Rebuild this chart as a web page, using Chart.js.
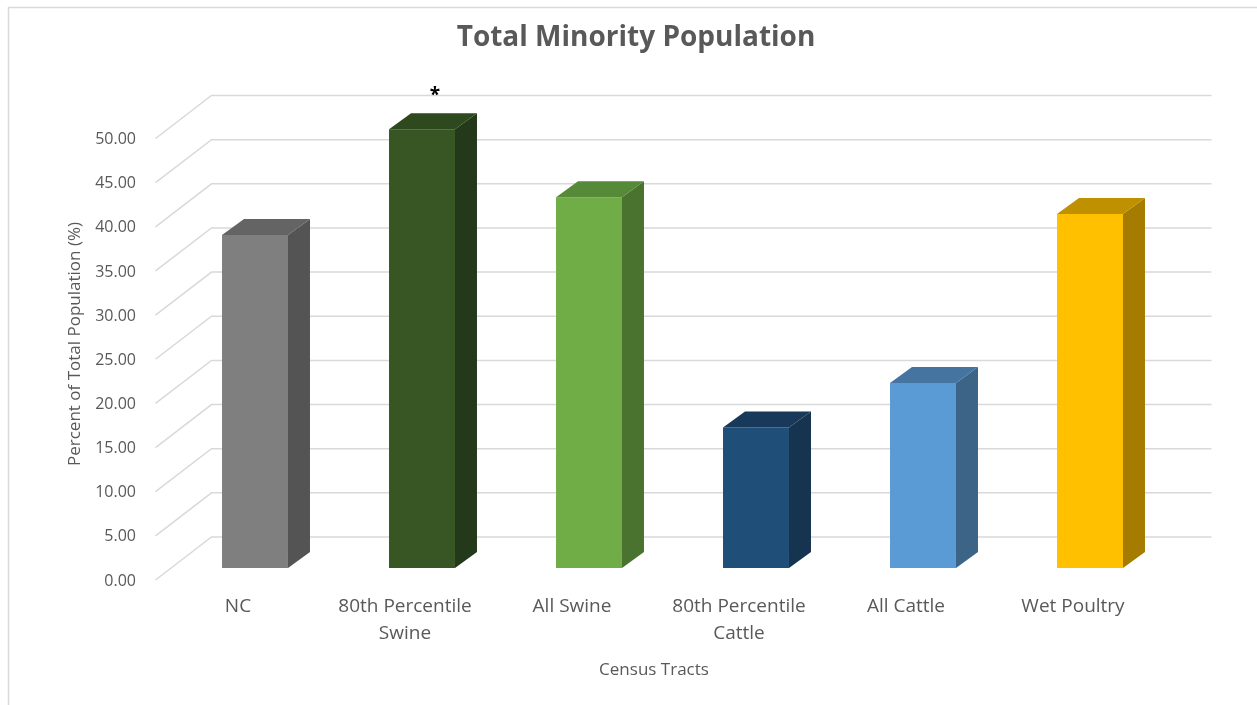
<!DOCTYPE html>
<html>
<head>
<meta charset="utf-8">
<script src="https://cdn.jsdelivr.net/npm/chart.js@4.4.0/dist/chart.umd.min.js"></script>
<style>
  html, body { margin: 0; padding: 0; background: #fff; }
</style>
</head>
<body>
<canvas id="chart" width="1257" height="705"></canvas>
<script>
// data
const chartTitle = 'Total Minority Population';
const yTitle = 'Percent of Total Population (%)';
const xTitle = 'Census Tracts';
const categories = ['NC', ['80th Percentile', 'Swine'], 'All Swine', ['80th Percentile', 'Cattle'], 'All Cattle', 'Wet Poultry'];
const minorityPct = [37.7, 49.7, 42.0, 15.9, 20.95, 40.1];
const starredBars = [1];

const frontColors = ['#7f7f7f', '#375623', '#70ad47', '#1f4e79', '#5b9bd5', '#ffc000'];
const sideColors  = ['#545454', '#24391a', '#4a7330', '#16334f', '#3b6486', '#a67c00'];
const topColors   = ['#646464', '#2d491d', '#568a38', '#18395a', '#4674a0', '#bf9000'];

const FONT = '"Open Sans", "Noto Sans", sans-serif';
const TEXT = '#595959';
const GRID = '#d9d9d9';
const DX = 22, DY = -16; // bar depth

// draws the back wall, the bar sides/tops and the loose texts
const threeD = {
    id: 'threeD',
    beforeDraw(chart) {
        const ctx = chart.ctx;
        ctx.save();
        ctx.strokeStyle = GRID;
        ctx.lineWidth = 1.5;
        ctx.beginPath();
        ctx.moveTo(8.5, 705);
        ctx.lineTo(8.5, 7.5);
        ctx.lineTo(1257, 7.5);
        ctx.stroke();
        ctx.restore();
    },
    beforeDatasetsDraw(chart) {
        const { ctx, chartArea: a, scales: { y } } = chart;
        ctx.save();
        ctx.strokeStyle = GRID;
        ctx.lineWidth = 1.5;
        y.ticks.forEach(t => {
            const py = y.getPixelForValue(t.value);
            ctx.beginPath();
            ctx.moveTo(a.left - 16, py + 12);
            ctx.lineTo(a.left + 40, py - 31);
            ctx.lineTo(a.right + 38, py - 31);
            ctx.stroke();
        });
        ctx.restore();
    },
    afterDatasetsDraw(chart) {
        const ctx = chart.ctx;
        const meta = chart.getDatasetMeta(0);
        ctx.save();
        meta.data.forEach((bar, i) => {
            const { x, y, base, width } = bar.getProps(['x', 'y', 'base', 'width'], true);
            const l = x - width / 2, r = x + width / 2;
            // side
            ctx.fillStyle = sideColors[i];
            ctx.beginPath();
            ctx.moveTo(r, y);
            ctx.lineTo(r + DX, y + DY);
            ctx.lineTo(r + DX, base + DY);
            ctx.lineTo(r, base);
            ctx.closePath();
            ctx.fill();
            // top
            ctx.fillStyle = topColors[i];
            ctx.beginPath();
            ctx.moveTo(l, y);
            ctx.lineTo(l + DX, y + DY);
            ctx.lineTo(r + DX, y + DY);
            ctx.lineTo(r, y);
            ctx.closePath();
            ctx.fill();
            if (starredBars.includes(i)) {
                ctx.fillStyle = '#000';
                ctx.font = 'bold 19px ' + FONT;
                ctx.textAlign = 'center';
                ctx.textBaseline = 'alphabetic';
                ctx.fillText('*', x + 13, y + DY - 12);
            }
        });

        // axis titles
        ctx.fillStyle = TEXT;
        ctx.font = '17px ' + FONT;
        ctx.textAlign = 'center';
        ctx.textBaseline = 'middle';
        ctx.fillText(xTitle, 654, 670);
        ctx.translate(75, 344);
        ctx.rotate(-Math.PI / 2);
        ctx.fillText(yTitle, 0, 0);
        ctx.restore();
    }
};

new Chart(document.getElementById('chart'), {
    type: 'bar',
    data: {
        labels: categories,
        datasets: [{
            data: minorityPct,
            backgroundColor: frontColors,
            borderWidth: 0,
            categoryPercentage: 1,
            barPercentage: 0.395
        }]
    },
    options: {
        responsive: false,
        animation: false,
        layout: { padding: { left: 15, right: 0, top: 0, bottom: 0 } },
        plugins: {
            legend: { display: false },
            tooltip: { enabled: false },
            title: {
                display: true,
                text: chartTitle,
                color: TEXT,
                font: { family: FONT, size: 28, weight: 'bold' },
                padding: { top: 21.2, bottom: 71.7 }
            }
        },
        scales: {
            x: {
                grid: { display: false, drawTicks: false },
                border: { display: false },
                ticks: {
                    color: TEXT,
                    font: { family: FONT, size: 19, lineHeight: 1.42 },
                    padding: 25.5,
                    labelOffset: -17,
                    maxRotation: 0
                },
                afterFit: s => { s.height = 137; }
            },
            y: {
                min: 0,
                max: 50,
                grid: { display: false, drawTicks: false },
                border: { display: false },
                ticks: {
                    stepSize: 5,
                    color: TEXT,
                    font: { family: FONT, size: 16 },
                    padding: 35.5,
                    labelOffset: 13,
                    callback: v => v.toFixed(2)
                },
                afterFit: s => { s.width = 156.5; }
            },
            // empty right axis, only keeps room for the back wall
            yRight: {
                position: 'right',
                min: 0,
                max: 50,
                grid: { display: false, drawTicks: false },
                border: { display: false },
                ticks: { display: false },
                afterFit: s => { s.width = 83.5; }
            }
        }
    },
    plugins: [threeD]
});
</script>
</body>
</html>
